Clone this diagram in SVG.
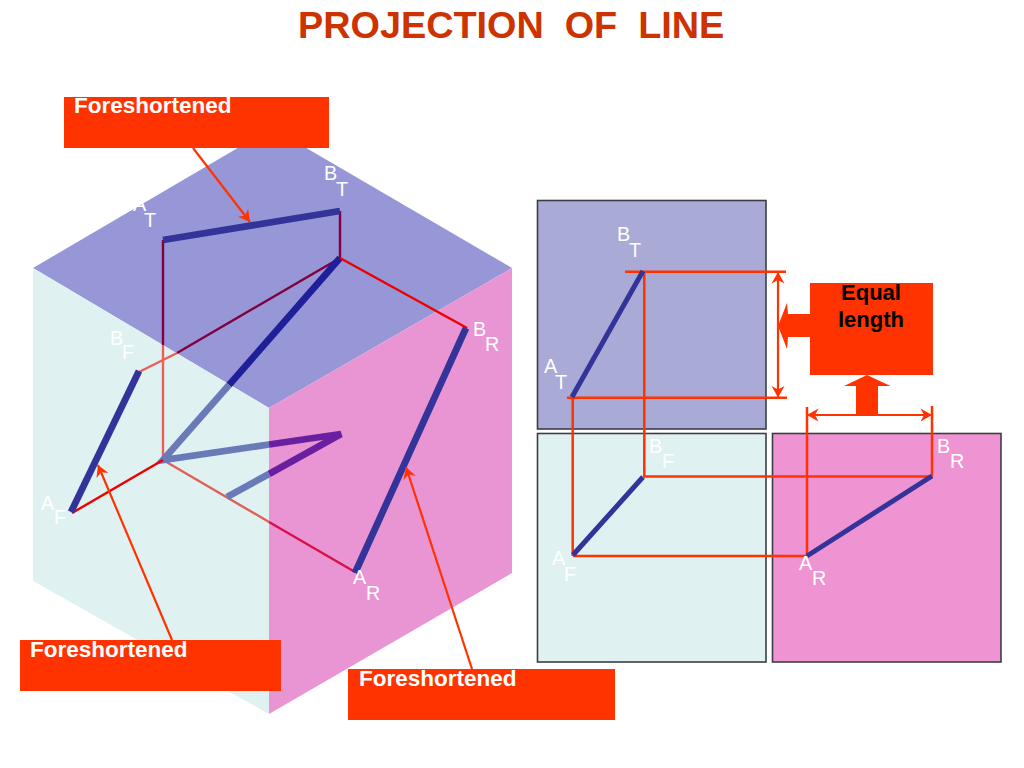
<svg xmlns="http://www.w3.org/2000/svg" width="1024" height="768" viewBox="0 0 1024 768">
<style>
text{font-family:"Liberation Sans",Arial,sans-serif}
.title{font-size:37.8px;font-weight:bold;fill:#cc3300;white-space:pre}
.call{font-size:22.5px;font-weight:bold;fill:#fff}
.eq{font-size:22px;font-weight:bold;fill:#000;text-anchor:middle}
.lb{font-size:19.8px;fill:#fff}
.box{fill:#ff3300}
.panel{stroke:#3c3c48;stroke-width:1.6}
.lead,.dim,.proj,.thick,.pl,.hid{fill:none}
.hid{stroke-width:2.4}
.lead{stroke:#ff3300;stroke-width:2.2;marker-end:url(#open)}
.proj{stroke:#ff3300;stroke-width:2.5}
.dim{stroke:#ff3300;stroke-width:2.2;marker-start:url(#openr);marker-end:url(#open)}
.thick{stroke:#333399;stroke-width:6.8}
.pl{stroke:#333399;stroke-width:5}
</style>
<defs>
<marker id="open" markerUnits="userSpaceOnUse" markerWidth="16" markerHeight="16" refX="13" refY="7.5" orient="auto"><path d="M1.5,1 L13,7.5 L1.5,14 L5,7.5 Z" fill="#ff3300"/></marker>
<marker id="openr" markerUnits="userSpaceOnUse" markerWidth="16" markerHeight="16" refX="1" refY="7.5" orient="auto"><path d="M12.5,1 L1,7.5 L12.5,14 L9,7.5 Z" fill="#ff3300"/></marker>
</defs>
<text class="title" x="298" y="38">PROJECTION  OF  LINE</text>
<g id="cube">
<polygon points="33,268 272,128 512,268 269,408" fill="#9797d8"/>
<polygon points="33,268 269,408 269,714 33,581" fill="#e0f1f1"/>
<polygon points="269,408 512,268 512,573 269,714" fill="#e994d3"/>
</g>
<g id="connectors">
<g id="hidden-lines">
<path class="hid" d="M340,211V258" stroke="#800040"/>
<path class="hid" d="M163,240V345" stroke="#800040"/>
<path class="hid" d="M163,345V460" stroke="#e8605a"/>
<path class="hid" d="M340,258L177,353" stroke="#800040"/>
<path class="hid" d="M177,353L139,372" stroke="#e8605a"/>
<path class="hid" d="M163,460L269,522" stroke="#e0605a"/>
<path class="hid" d="M269,522L355,572" stroke="#d8104a"/>
<path d="M340,258L229,385" stroke="#1f1f9a" stroke-width="6.8" fill="none"/>
<path d="M229,385L163,460L269,444.5" stroke="#6a7ab8" stroke-width="6.8" fill="none"/>
<path d="M269,444.5L341,434L269,474" stroke="#6a1fa0" stroke-width="6.8" fill="none"/>
<path d="M269,474L227,497" stroke="#6a7ab8" stroke-width="6.8" fill="none"/>
</g>
<path d="M72,513L163,460" stroke="#ee0000" stroke-width="2.4" fill="none"/>
<path d="M340,258L467,328" stroke="#ee0000" stroke-width="2.4" fill="none"/>
<path class="thick" d="M163,240L340,211"/>
<path class="thick" d="M71,512L139,371"/>
<path class="thick" d="M355,573L466,328"/>
</g>
<g id="cube-labels">
<text class="lb" x="133" y="211">A</text><text class="lb" x="144" y="227">T</text>
<text class="lb" x="324" y="180">B</text><text class="lb" x="336" y="196">T</text>
<text class="lb" x="110" y="345">B</text><text class="lb" x="122" y="359">F</text>
<text class="lb" x="473" y="336">B</text><text class="lb" x="485" y="351">R</text>
<text class="lb" x="41" y="510">A</text><text class="lb" x="54" y="524">F</text>
<text class="lb" x="353" y="584">A</text><text class="lb" x="366" y="600">R</text>
</g>
<g id="panel-top"><rect class="panel" x="537.5" y="200.5" width="228.5" height="228.5" fill="#aaaad6"/></g>
<g id="panel-front"><rect class="panel" x="537.5" y="433.5" width="228.5" height="228.5" fill="#e0f1f1"/></g>
<g id="panel-right"><rect class="panel" x="772.5" y="433.5" width="228.5" height="228.5" fill="#ee94d2"/></g>
<g id="projectors">
<path class="proj" d="M625,271.7H786M567,397.7H787M644.3,272V477M572.7,398V556M644,476.5H932.5M573,556H807M807,407V556M932,406V476"/>
<path class="dim" d="M778,272V397.5"/>
<path class="dim" d="M807,415H932"/>
<path class="pl" d="M572,397L643,271"/>
<path class="pl" d="M573,555L643,477"/>
<path class="pl" d="M807,556L932,476"/>
</g>
<g id="panel-labels">
<text class="lb" x="617" y="241">B</text><text class="lb" x="629" y="257">T</text>
<text class="lb" x="544" y="373">A</text><text class="lb" x="555" y="389">T</text>
<text class="lb" x="649" y="453">B</text><text class="lb" x="662" y="468">F</text>
<text class="lb" x="937" y="453">B</text><text class="lb" x="950" y="468">R</text>
<text class="lb" x="552" y="565">A</text><text class="lb" x="564" y="581">F</text>
<text class="lb" x="799" y="570">A</text><text class="lb" x="812" y="585">R</text>
</g>
<g id="equal-length">
<path class="box" d="M810,283H933V375H810V337H788L787,349L778,326L787,303L788,314H810Z"/>
<path class="box" d="M867,375L890.5,386H878V415H856V386H844Z"/>
<text class="eq" x="871" y="300">Equal</text>
<text class="eq" x="871" y="327">length</text>
</g>
<g id="foreshortened-top">
<path class="lead" d="M193,148L250,222"/>
<rect class="box" x="64" y="97" width="265" height="51"/>
<text class="call" x="74" y="113">Foreshortened</text>
</g>
<g id="foreshortened-front">
<path class="lead" d="M172,640L98,465"/>
<rect class="box" x="20" y="640" width="261" height="51"/>
<text class="call" x="30" y="657">Foreshortened</text>
</g>
<g id="foreshortened-right">
<path class="lead" d="M472,669L406,467"/>
<rect class="box" x="348" y="669" width="267" height="51"/>
<text class="call" x="359" y="686">Foreshortened</text>
</g>
</svg>
